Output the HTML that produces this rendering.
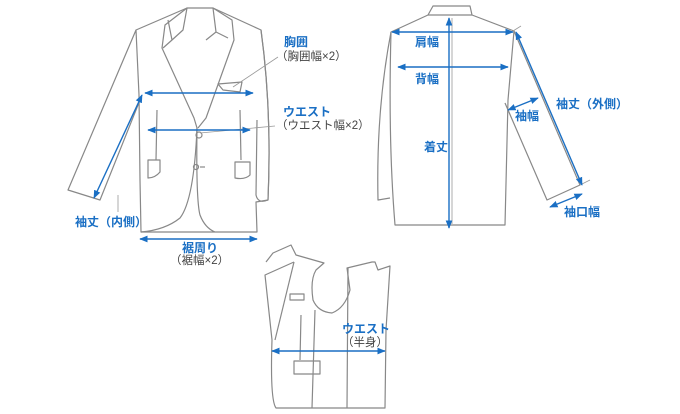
<!DOCTYPE html>
<html><head><meta charset="utf-8"><style>
html,body{margin:0;padding:0;background:#fff;}
svg{display:block;}
text{font-family:"Liberation Sans","Noto Sans CJK JP",sans-serif;font-size:11.5px;}
.b{fill:#1a6fc4;font-weight:bold;font-size:12px;}
.k{fill:#444;}
</style></head><body>
<svg width="680" height="414" viewBox="0 0 680 414" xmlns="http://www.w3.org/2000/svg">
<defs>
<marker id="a" viewBox="0 0 10 10" refX="9" refY="5" markerWidth="6" markerHeight="6" orient="auto-start-reverse"><path d="M0,1 L10,5 L0,9 z" fill="#1a6fc4"/></marker>
</defs>
<g fill="none" stroke="#888" stroke-width="1.2" stroke-linejoin="round">
<!-- front jacket -->
<path d="M187,8 L213,8 L261,30 Q272,110 268,200 L256,202 L257,232 L141,232 L140,180 L139,95 L136,30 Z" fill="#fff"/>
<path d="M136,30 L68,190 L100,200 L140,100"/>
<path d="M261,30 Q272,110 268,200 Q258,204 256,195 L257,120"/>
<path d="M187,8 L165,25 L162,48 L194,118 L197,128 Q196,200 200,215 Q205,228 215,232"/>
<path d="M213,8 L232,20 L234,40 L206,118 L198,128"/>
<path d="M168,20 L172,40 L163,48 M187,8 L183,30 L172,40"/>
<path d="M213,8 L216,32 L228,38 M216,32 L206,40"/>
<path d="M197,128 Q194,200 180,218 Q165,230 141,232"/>
<path d="M157,110 L156,160 M240,110 L241,160"/>
<path d="M148,160 L160,160 L160,172 Q155,178 148,178 Z M235,162 L250,162 L250,175 Q245,180 235,178 Z"/>
<path d="M218,84 L242,82 L240,92 L223,90 Z"/>
<circle cx="199" cy="135" r="3"/><circle cx="196" cy="167" r="2.5"/><path d="M200,167 L205,167"/>
<!-- back jacket -->
<path d="M433,6 L470,6 L472,15 L514,31 L508,100 L505,225 L395,225 Q388,140 391,32 L428,15 Z" fill="#fff"/>
<path d="M391,32 Q376,110 378,200 L390,198"/>
<path d="M428,15 L472,15"/>
<path d="M514,31 L580,185 L547,200 L505,103"/>
<path d="M452,18 L452,225" stroke="#bbb"/>
<!-- inner waist -->
<path d="M266,262 L273,253 L291,245 L296,255 L324,263 L316,270 Q310,280 313,300 Q318,312 332,313 Q345,308 350,290 L347,268 L372,262 L375,262 L378,270 L390,266 L386,330 L385,408 L276,408 Q270,400 272,340 L265,275 L294,262" fill="#fff"/>
<path d="M294,262 L275,340"/>
<path d="M348,268 L347,408 M301,315 L300,360 M315,310 L312,408"/>
<rect x="290" y="294" width="14" height="6"/>
<rect x="294" y="361" width="26" height="13"/>
</g>
<g stroke="#999" stroke-width="0.8" fill="none">
<path d="M233,87 L278,57 M200,133 L275,126 M118,195 L118,212 M513,31 L521,26 M580,185 L590,180"/>
</g>
<g stroke="#1a6fc4" stroke-width="1.4" fill="none" marker-start="url(#a)" marker-end="url(#a)">
<line x1="145" y1="93" x2="253" y2="93"/>
<line x1="148" y1="130" x2="250" y2="130"/>
<line x1="140" y1="239" x2="257" y2="239"/>
<line x1="142" y1="95" x2="94" y2="198"/>
<line x1="392" y1="32" x2="513" y2="32"/>
<line x1="398" y1="67" x2="508" y2="67"/>
<line x1="449" y1="18" x2="449" y2="228"/>
<line x1="516" y1="32" x2="582" y2="185"/>
<line x1="508" y1="110" x2="538" y2="98"/>
<line x1="550" y1="207" x2="582" y2="194"/>
<line x1="272" y1="351" x2="385" y2="351"/>
</g>
<text class="b" x="284" y="46">胸囲</text>
<text class="k" x="276" y="60">（胸囲幅×2）</text>
<text class="b" x="283" y="116">ウエスト</text>
<text class="k" x="276" y="129">（ウエスト幅×2）</text>
<text class="b" x="182" y="252">裾周り</text>
<text class="k" x="170" y="264">（裾幅×2）</text>
<text class="b" x="75" y="226">袖丈（内側）</text>
<text class="b" x="415" y="46">肩幅</text>
<text class="b" x="415" y="83">背幅</text>
<text class="b" x="424" y="151">着丈</text>
<text class="b" x="556" y="108">袖丈（外側）</text>
<text class="b" x="515" y="120">袖幅</text>
<text class="b" x="564" y="216">袖口幅</text>
<text class="b" x="342" y="333">ウエスト</text>
<text class="k" x="342" y="346">（半身）</text>
</svg>
</body></html>
